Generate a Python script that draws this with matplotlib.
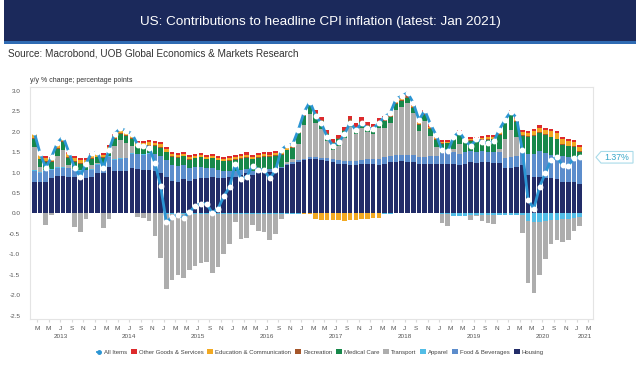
import numpy as np
import pandas as pd
import matplotlib
matplotlib.use("Agg")
import matplotlib.pyplot as plt
from matplotlib.patches import Rectangle, Polygon
from matplotlib.lines import Line2D

plt.rcParams["font.family"] = ["Liberation Sans", "DejaVu Sans"]

# monthly, Feb 2013 .. Jan 2021 (96 bars)
months = pd.date_range("2013-02-01", "2021-01-01", freq="MS")

all_items = [
    1.98, 1.47, 1.12, 1.38, 1.72, 1.88, 1.50, 1.12, 0.90, 1.22, 1.48,
    1.50, 1.12, 1.55, 1.95, 2.08, 2.02, 1.95, 1.68, 1.65, 1.61, 1.24, 0.66,
    -0.22, -0.08, -0.04, -0.10, 0.03, 0.18, 0.24, 0.24, 0.01, 0.12, 0.42, 0.64,
    1.22, 0.84, 0.90, 1.17, 1.07, 1.07, 0.86, 1.05, 1.55, 1.67, 1.69, 2.05,
    2.48, 2.73, 2.39, 2.20, 1.87, 1.65, 1.74, 1.93, 2.22, 2.04, 2.20, 2.09,
    2.07, 2.21, 2.36, 2.46, 2.80, 2.87, 2.95, 2.70, 2.28, 2.52, 2.18, 1.91,
    1.55, 1.52, 1.86, 2.00, 1.79, 1.65, 1.81, 1.75, 1.71, 1.76, 2.05, 2.29,
    2.49, 2.33, 1.54, 0.33, 0.12, 0.65, 0.99, 1.31, 1.37, 1.18, 1.17, 1.36, 1.37,
]

housing = [
    0.77, 0.76, 0.77, 0.86, 0.91, 0.92, 0.90, 0.88, 0.84, 0.86, 0.88,
    0.98, 0.98, 1.14, 1.03, 1.03, 1.03, 1.10, 1.08, 1.06, 1.06, 1.03, 0.98,
    0.90, 0.79, 0.78, 0.83, 0.80, 0.83, 0.86, 0.86, 0.90, 0.86, 0.86, 0.90,
    0.90, 0.94, 0.98, 0.94, 0.98, 1.02, 1.02, 1.06, 1.10, 1.18, 1.22, 1.26,
    1.30, 1.34, 1.32, 1.30, 1.28, 1.25, 1.22, 1.20, 1.18, 1.18, 1.20, 1.20,
    1.20, 1.18, 1.22, 1.25, 1.26, 1.28, 1.26, 1.25, 1.22, 1.20, 1.22, 1.20,
    1.22, 1.22, 1.22, 1.18, 1.22, 1.25, 1.24, 1.26, 1.25, 1.24, 1.24, 1.10,
    1.12, 1.14, 1.18, 0.95, 0.90, 0.90, 0.87, 0.86, 0.85, 0.78, 0.77, 0.76, 0.73,
]

food = [
    0.26, 0.22, 0.26, 0.21, 0.21, 0.20, 0.20, 0.19, 0.19, 0.19, 0.19,
    0.20, 0.22, 0.25, 0.28, 0.31, 0.32, 0.36, 0.37, 0.38, 0.40, 0.42, 0.42,
    0.40, 0.40, 0.38, 0.36, 0.30, 0.30, 0.28, 0.24, 0.22, 0.20, 0.18, 0.14,
    0.14, 0.12, 0.10, 0.09, 0.08, 0.07, 0.06, 0.05, 0.04, 0.04, 0.04, 0.04,
    0.04, 0.04, 0.06, 0.06, 0.07, 0.08, 0.09, 0.09, 0.10, 0.11, 0.11, 0.12,
    0.13, 0.14, 0.15, 0.16, 0.16, 0.16, 0.17, 0.17, 0.17, 0.17, 0.18, 0.20,
    0.26, 0.27, 0.28, 0.28, 0.28, 0.27, 0.26, 0.26, 0.25, 0.25, 0.26, 0.25,
    0.26, 0.27, 0.32, 0.50, 0.56, 0.62, 0.60, 0.58, 0.58, 0.62, 0.62, 0.62, 0.60,
]

apparel = [
    0.04, 0.03, 0.02, 0.02, 0.02, 0.02, 0.02, 0.02, 0.02, 0.02, 0.02,
    0.02, 0.01, 0.01, 0.01, 0.01, 0.01, 0.01, 0.01, 0.01, 0.01, 0.01, 0.01,
    -0.02, -0.02, -0.02, -0.02, -0.02, -0.02, -0.02, -0.02, -0.02, -0.02, -0.02, -0.02,
    -0.01, -0.01, -0.01, -0.01, -0.01, -0.01, -0.01, -0.01, -0.01, -0.01, -0.01, -0.01,
    0.00, 0.00, 0.00, 0.00, 0.00, 0.00, 0.00, 0.00, 0.00, 0.00, 0.00, 0.00,
    0.00, 0.00, -0.01, -0.01, 0.00, 0.00, 0.00, 0.00, 0.00, 0.00, 0.00, 0.00,
    -0.01, -0.02, -0.07, -0.07, -0.07, -0.05, -0.03, -0.04, -0.04, -0.03, -0.03, -0.03,
    -0.03, -0.03, -0.05, -0.18, -0.20, -0.20, -0.18, -0.16, -0.15, -0.14, -0.13, -0.11, -0.09,
]

transport = [
    0.55, 0.13, -0.28, -0.04, 0.27, 0.42, 0.06, -0.32, -0.45, -0.14, 0.10,
    0.03, -0.36, -0.13, 0.34, 0.44, 0.36, 0.18, -0.09, -0.11, -0.18, -0.54, -1.08,
    -1.82, -1.60, -1.49, -1.57, -1.37, -1.26, -1.20, -1.16, -1.43, -1.30, -0.97, -0.72,
    -0.20, -0.61, -0.58, -0.28, -0.42, -0.45, -0.63, -0.50, -0.12, 0.03, 0.06, 0.40,
    0.82, 1.05, 0.84, 0.70, 0.41, 0.22, 0.33, 0.56, 0.84, 0.66, 0.79, 0.66,
    0.61, 0.77, 0.73, 0.79, 1.11, 1.17, 1.27, 1.03, 0.63, 0.88, 0.50, 0.22,
    -0.23, -0.28, 0.08, 0.24, 0.00, -0.10, -0.04, -0.15, -0.20, -0.24, 0.08, 0.48,
    0.65, 0.45, -0.44, -1.51, -1.75, -1.30, -0.93, -0.59, -0.49, -0.55, -0.53, -0.33, -0.22,
]

medical = [
    0.20, 0.18, 0.20, 0.16, 0.17, 0.18, 0.18, 0.17, 0.16, 0.15, 0.15,
    0.14, 0.14, 0.15, 0.16, 0.16, 0.17, 0.17, 0.18, 0.18, 0.19, 0.19, 0.20,
    0.20, 0.20, 0.20, 0.21, 0.21, 0.22, 0.23, 0.23, 0.23, 0.24, 0.24, 0.25,
    0.26, 0.27, 0.28, 0.29, 0.30, 0.30, 0.30, 0.30, 0.30, 0.29, 0.28, 0.27,
    0.23, 0.22, 0.20, 0.19, 0.18, 0.17, 0.17, 0.16, 0.15, 0.14, 0.14, 0.15,
    0.15, 0.14, 0.15, 0.15, 0.15, 0.14, 0.13, 0.13, 0.14, 0.15, 0.16, 0.17,
    0.22, 0.22, 0.23, 0.24, 0.25, 0.26, 0.27, 0.28, 0.30, 0.32, 0.34, 0.38,
    0.38, 0.38, 0.40, 0.42, 0.44, 0.45, 0.44, 0.42, 0.38, 0.28, 0.25, 0.24, 0.18,
]

recreation = [
    0.02, 0.02, 0.02, 0.02, 0.02, 0.02, 0.02, 0.02, 0.02, 0.02, 0.02,
    0.02, 0.02, 0.02, 0.02, 0.02, 0.02, 0.02, 0.02, 0.02, 0.02, 0.02, 0.02,
    0.01, 0.01, 0.01, 0.01, 0.01, 0.01, 0.01, 0.01, 0.01, 0.01, 0.01, 0.01,
    0.02, 0.02, 0.02, 0.02, 0.02, 0.02, 0.02, 0.02, 0.02, 0.02, 0.02, 0.02,
    0.03, 0.03, 0.03, 0.03, 0.03, 0.03, 0.03, 0.03, 0.03, 0.03, 0.03, 0.03,
    0.03, 0.03, 0.03, 0.03, 0.03, 0.03, 0.03, 0.03, 0.03, 0.03, 0.03, 0.03,
    0.02, 0.02, 0.02, 0.02, 0.02, 0.02, 0.02, 0.02, 0.02, 0.02, 0.02, 0.02,
    0.02, 0.02, 0.02, 0.02, 0.02, 0.02, 0.02, 0.02, 0.02, 0.02, 0.02, 0.02, 0.02,
]

education = [
    0.09, 0.08, 0.08, 0.07, 0.07, 0.07, 0.07, 0.07, 0.07, 0.07, 0.07,
    0.06, 0.06, 0.06, 0.06, 0.06, 0.06, 0.06, 0.06, 0.06, 0.06, 0.06, 0.06,
    0.06, 0.06, 0.05, 0.05, 0.05, 0.05, 0.05, 0.05, 0.05, 0.05, 0.05, 0.05,
    0.05, 0.05, 0.05, 0.04, 0.04, 0.04, 0.04, 0.04, 0.03, 0.03, 0.02, 0.01,
    -0.01, -0.02, -0.13, -0.15, -0.17, -0.17, -0.17, -0.18, -0.15, -0.15, -0.14, -0.14,
    -0.12, -0.12, 0.02, 0.02, 0.02, 0.02, 0.02, 0.02, 0.02, 0.02, 0.02, 0.02,
    0.02, 0.02, 0.02, 0.03, 0.03, 0.03, 0.03, 0.03, 0.04, 0.04, 0.04, 0.04,
    0.04, 0.05, 0.06, 0.08, 0.10, 0.11, 0.12, 0.13, 0.13, 0.12, 0.12, 0.11, 0.10,
]

other = [
    0.05, 0.05, 0.05, 0.05, 0.05, 0.05, 0.05, 0.05, 0.05, 0.05, 0.05,
    0.05, 0.05, 0.05, 0.05, 0.05, 0.05, 0.05, 0.05, 0.05, 0.05, 0.05, 0.05,
    0.05, 0.05, 0.05, 0.05, 0.05, 0.05, 0.05, 0.05, 0.05, 0.05, 0.05, 0.05,
    0.06, 0.06, 0.06, 0.06, 0.06, 0.06, 0.06, 0.06, 0.06, 0.06, 0.06, 0.06,
    0.08, 0.08, 0.08, 0.08, 0.08, 0.08, 0.08, 0.08, 0.08, 0.08, 0.08, 0.08,
    0.07, 0.07, 0.07, 0.07, 0.07, 0.07, 0.07, 0.07, 0.07, 0.07, 0.07, 0.07,
    0.05, 0.05, 0.05, 0.05, 0.05, 0.05, 0.05, 0.05, 0.05, 0.05, 0.05, 0.05,
    0.05, 0.05, 0.05, 0.05, 0.05, 0.05, 0.05, 0.05, 0.05, 0.05, 0.05, 0.05, 0.05,
]

# stacking order bottom -> top
series = [
    ("Housing", housing, "#222c68"),
    ("Food & Beverages", food, "#5c8dcc"),
    ("Apparel", apparel, "#52bde6"),
    ("Transport", transport, "#adadad"),
    ("Medical Care", medical, "#17884a"),
    ("Recreation", recreation, "#a5562a"),
    ("Education & Communication", education, "#f2a922"),
    ("Other Goods & Services", other, "#dd2a2c"),
]
line_color = "#2b95d3"

fig = plt.figure(figsize=(6.4, 3.71), dpi=100)

# header banner
fig.add_artist(Rectangle((4 / 640, 1 - 41 / 371), 632 / 640, 41 / 371,
                         transform=fig.transFigure, color="#1b295b", lw=0))
fig.add_artist(Rectangle((4 / 640, 1 - 44 / 371), 632 / 640, 3 / 371,
                         transform=fig.transFigure, color="#2f6bb3", lw=0))
fig.text(0.5, 1 - 22 / 371, "US: Contributions to headline CPI inflation (latest: Jan 2021)",
         color="white", fontsize=9.7, ha="center", va="center")
fig.text(8 / 640, 1 - 53 / 371, "Source: Macrobond, UOB Global Economics & Markets Research",
         color="#333333", fontsize=7.2, ha="left", va="center")
fig.text(30 / 640, 1 - 81 / 371, "y/y % change; percentage points",
         color="#333333", fontsize=5.0, ha="left", va="center")

ax = fig.add_axes([30 / 640, 1 - 319 / 371, 563 / 640, 232 / 371])
x = np.arange(len(months))

pos_bottom = np.zeros(len(x))
neg_bottom = np.zeros(len(x))
handles = {}
for name, vals, col in series:
    v = np.array(vals)
    bottom = np.where(v >= 0, pos_bottom, neg_bottom)
    b = ax.bar(x, v, bottom=bottom, width=0.8, color=col, lw=0, zorder=2)
    handles[name] = b
    pos_bottom = pos_bottom + np.where(v >= 0, v, 0)
    neg_bottom = neg_bottom + np.where(v < 0, v, 0)

ax.plot(x, all_items, color=line_color, lw=2.0, solid_joinstyle="round",
        marker="o", ms=3.2, mfc="white", mec="white", zorder=5)

ax.set_xlim(-0.75, 97.3)
ax.set_ylim(-2.58, 3.09)
ax.set_yticks(np.arange(-2.5, 3.01, 0.5))
ax.set_yticklabels([f"{t:.1f}" for t in np.arange(-2.5, 3.01, 0.5)])

# month letters at start of every other month, Mar 2013 .. Mar 2021
tick_pos = []
tick_lab = []
for k in range(1, 98, 2):
    m = (1 + k) % 12 + 1
    tick_pos.append(k - 0.5)
    tick_lab.append("JFMAMJJASOND"[m - 1])
ax.set_xticks(tick_pos)
ax.set_xticklabels(tick_lab)
ax.tick_params(axis="x", length=2, color="#d9d9d9", pad=3, labelsize=4.6, labelcolor="#555555")
ax.tick_params(axis="y", length=0, pad=7, labelsize=4.6, labelcolor="#555555")

year_pos = [4.6, 16.5, 28.5, 40.5, 52.5, 64.5, 76.5, 88.5, 95.9]
year_lab = ["2013", "2014", "2015", "2016", "2017", "2018", "2019", "2020", "2021"]
for xp, yl in zip(year_pos, year_lab):
    ax.text(xp, -0.075, yl, transform=ax.get_xaxis_transform(), ha="center", va="center",
            fontsize=4.6, color="#555555")

for s in ax.spines.values():
    s.set_color("#e4e4e4")
    s.set_linewidth(0.8)

# latest value tag
ty = 1 - (213.3 - 1.37 * 40.9) / 371
h = 5.8 / 371
fig.add_artist(Polygon([(596 / 640, ty), (601 / 640, ty + h), (633 / 640, ty + h),
                        (633 / 640, ty - h), (601 / 640, ty - h)], closed=True,
                       transform=fig.transFigure, fc="white", ec="#a9dbe9", lw=0.8))
fig.text(617 / 640, ty, "1.37%", color="#35a6c8", fontsize=6.3, ha="center", va="center")

leg_handles = [Line2D([], [], color=line_color, lw=1.2, ls=(0, (2, 1.5)), marker="o", ms=2.5,
                      mfc=line_color, mec=line_color)]
leg_labels = ["All Items"]
for name in ["Other Goods & Services", "Education & Communication", "Recreation",
             "Medical Care", "Transport", "Apparel", "Food & Beverages", "Housing"]:
    leg_handles.append(handles[name])
    leg_labels.append(name)
fig.legend(leg_handles, leg_labels, loc="center", bbox_to_anchor=(0.5, 1 - 352 / 371),
           ncol=9, frameon=False, fontsize=4.3, handlelength=1.0, handleheight=0.9,
           handletextpad=0.35, columnspacing=0.6, labelcolor="#444444")

fig.savefig("out.png", dpi=100)
